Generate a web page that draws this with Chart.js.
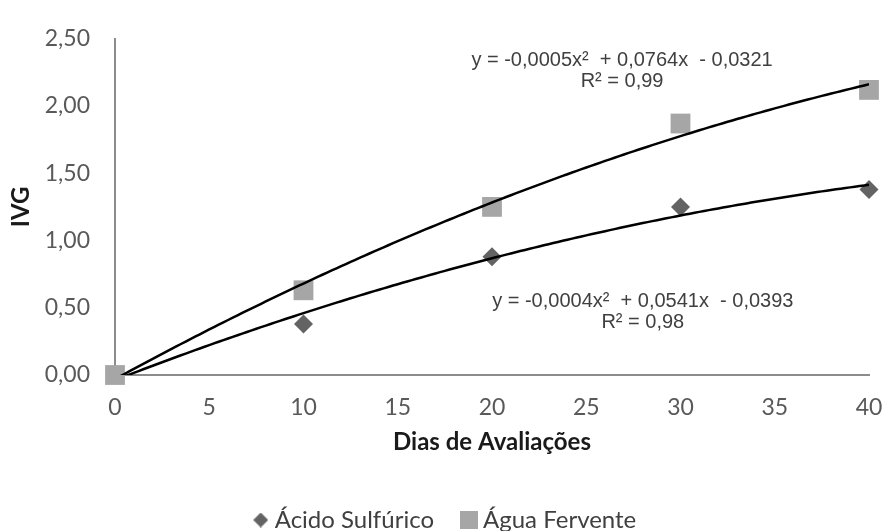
<!DOCTYPE html>
<html>
<head>
<meta charset="utf-8">
<script src="https://cdn.jsdelivr.net/npm/chart.js@4"></script>
<style>
  html, body { margin: 0; padding: 0; background: #fff; }
  #wrap { width: 884px; height: 531px; }
</style>
</head>
<body>
<div id="wrap"><canvas id="chart"></canvas></div>
<script>
// Data
const dias = [0, 10, 20, 30, 40];
const acidoSulfurico = [0, 0.38, 0.88, 1.25, 1.38];
const aguaFervente = [0, 0.63, 1.25, 1.87, 2.12];
const seriesNames = ['Ácido Sulfúrico', 'Água Fervente'];
const xTicks = [0, 5, 10, 15, 20, 25, 30, 35, 40];
const yTicks = [0, 0.5, 1, 1.5, 2, 2.5];
const equations = [
  ['y = -0,0004x\u00b2  + 0,0541x  - 0,0393', 'R\u00b2 = 0,98'],
  ['y = -0,0005x\u00b2  + 0,0764x  - 0,0321', 'R\u00b2 = 0,99']
];

const calibri = 'Lato, Carlito, Calibri, sans-serif';

// Least squares fit of y = a + b x + c x^2 (Excel polynomial trendline)
function fitQuadratic(xs, ys) {
  let s = [0, 0, 0, 0, 0], t = [0, 0, 0];
  xs.forEach((x, i) => {
    for (let k = 0; k < 5; k++) s[k] += Math.pow(x, k);
    for (let k = 0; k < 3; k++) t[k] += ys[i] * Math.pow(x, k);
  });
  const m = [[s[0], s[1], s[2], t[0]], [s[1], s[2], s[3], t[1]], [s[2], s[3], s[4], t[2]]];
  for (let i = 0; i < 3; i++) {
    for (let j = i + 1; j < 3; j++) {
      const f = m[j][i] / m[i][i];
      for (let k = i; k < 4; k++) m[j][k] -= f * m[i][k];
    }
  }
  const c = [0, 0, 0];
  for (let i = 2; i >= 0; i--) {
    let v = m[i][3];
    for (let k = i + 1; k < 3; k++) v -= m[i][k] * c[k];
    c[i] = v / m[i][i];
  }
  return c;
}

function trendPoints(xs, ys) {
  const c = fitQuadratic(xs, ys);
  const pts = [];
  for (let x = xs[0]; x <= xs[xs.length - 1] + 1e-9; x += 0.25) {
    pts.push({ x: x, y: c[0] + c[1] * x + c[2] * x * x });
  }
  return pts;
}

// small canvases used as legend markers
function marker(shape, size, color) {
  const cv = document.createElement('canvas');
  cv.width = size; cv.height = size;
  const g = cv.getContext('2d');
  g.fillStyle = color;
  if (shape === 'diamond') {
    g.beginPath();
    g.moveTo(size / 2, 0); g.lineTo(size, size / 2);
    g.lineTo(size / 2, size); g.lineTo(0, size / 2);
    g.closePath(); g.fill();
  } else {
    g.fillRect(0, 0, size, size);
  }
  return cv;
}

const colors = ['#636363', '#a6a6a6'];
const legendMarkers = [marker('diamond', 15, colors[0]), marker('square', 18, colors[1])];

// equation labels, placed in axis units
const eqPlugin = {
  id: 'equations',
  afterDatasetsDraw(chart) {
    const { ctx, scales: { x, y } } = chart;
    const spots = [[28.0, 0.55, 0.393], [26.9, 2.336, 2.179]];
    ctx.save();
    ctx.font = '20px "Liberation Sans", Arial, sans-serif';
    ctx.fillStyle = '#404040';
    ctx.textAlign = 'center';
    ctx.textBaseline = 'middle';
    equations.forEach((eq, i) => {
      const px = x.getPixelForValue(spots[i][0]);
      ctx.fillText(eq[0], px, y.getPixelForValue(spots[i][1]));
      ctx.fillText(eq[1], px, y.getPixelForValue(spots[i][2]));
    });
    ctx.restore();
  }
};

const legendHeight = {
  id: 'legendHeight',
  beforeInit(chart) {
    const fit = chart.legend.fit;
    chart.legend.fit = function () {
      fit.bind(chart.legend)();
      this.height = 56;
    };
  }
};

const ctx = document.getElementById('chart').getContext('2d');
new Chart(ctx, {
  type: 'scatter',
  data: {
    datasets: [
      {
        label: 'trend0', type: 'line', data: trendPoints(dias, acidoSulfurico),
        borderColor: '#000', borderWidth: 2.5, pointRadius: 0, fill: false,
        tension: 0, clip: 0, order: 0
      },
      {
        label: 'trend1', type: 'line', data: trendPoints(dias, aguaFervente),
        borderColor: '#000', borderWidth: 2.5, pointRadius: 0, fill: false,
        tension: 0, clip: 0, order: 0
      },
      {
        label: seriesNames[0],
        data: dias.map((d, i) => ({ x: d, y: acidoSulfurico[i] })),
        pointStyle: 'rectRot', pointRadius: 9.5, borderWidth: 0,
        backgroundColor: colors[0], order: 2, clip: false
      },
      {
        label: seriesNames[1],
        data: dias.map((d, i) => ({ x: d, y: aguaFervente[i] })),
        pointStyle: 'rect', pointRadius: 14, borderWidth: 0,
        backgroundColor: colors[1], order: 1, clip: false
      }
    ]
  },
  options: {
    responsive: true,
    maintainAspectRatio: false,
    animation: false,
    layout: { padding: { top: 25, right: 15, bottom: 0, left: 26 } },
    plugins: {
      tooltip: { enabled: false },
      legend: {
        position: 'bottom',
        labels: {
          usePointStyle: true,
          pointStyleWidth: 4,
          padding: 33,
          color: '#404040',
          font: { family: calibri, size: 24 },
          generateLabels(chart) {
            return [2, 3].map((di, k) => ({
              text: seriesNames[k],
              datasetIndex: di,
              pointStyle: legendMarkers[k],
              fillStyle: colors[k],
              strokeStyle: colors[k],
              lineWidth: 0,
              fontColor: '#404040',
              hidden: false
            }));
          }
        }
      }
    },
    scales: {
      x: {
        type: 'linear', min: 0, max: 40,
        afterBuildTicks: s => { s.ticks = xTicks.map(v => ({ value: v })); },
        afterFit: s => { s.height = 100; s.paddingRight = 0; },
        grid: { display: false, drawTicks: false },
        border: { display: true, color: '#8c8c8c', width: 2 },
        ticks: { padding: 19, color: '#595959', font: { family: calibri, size: 23 } },
        title: {
          display: true, text: 'Dias de Avaliações', color: '#1a1a1a',
          font: { family: calibri, size: 24, weight: 'bold' },
          padding: { top: 0, bottom: 18 }
        }
      },
      y: {
        min: 0, max: 2.5,
        afterBuildTicks: s => { s.ticks = yTicks.map(v => ({ value: v })); },
        afterFit: s => { s.width = 89; },
        grid: { display: false, drawTicks: false },
        border: { display: true, color: '#8c8c8c', width: 2 },
        ticks: {
          padding: 25, color: '#595959', font: { family: calibri, size: 23 },
          callback: v => v.toFixed(2).replace('.', ',')
        },
        title: {
          display: true, text: 'IVG', color: '#1a1a1a',
          font: { family: calibri, size: 24, weight: 'bold' },
          padding: { top: -19, bottom: 0 }
        }
      }
    }
  },
  plugins: [eqPlugin, legendHeight]
});
</script>
</body>
</html>
